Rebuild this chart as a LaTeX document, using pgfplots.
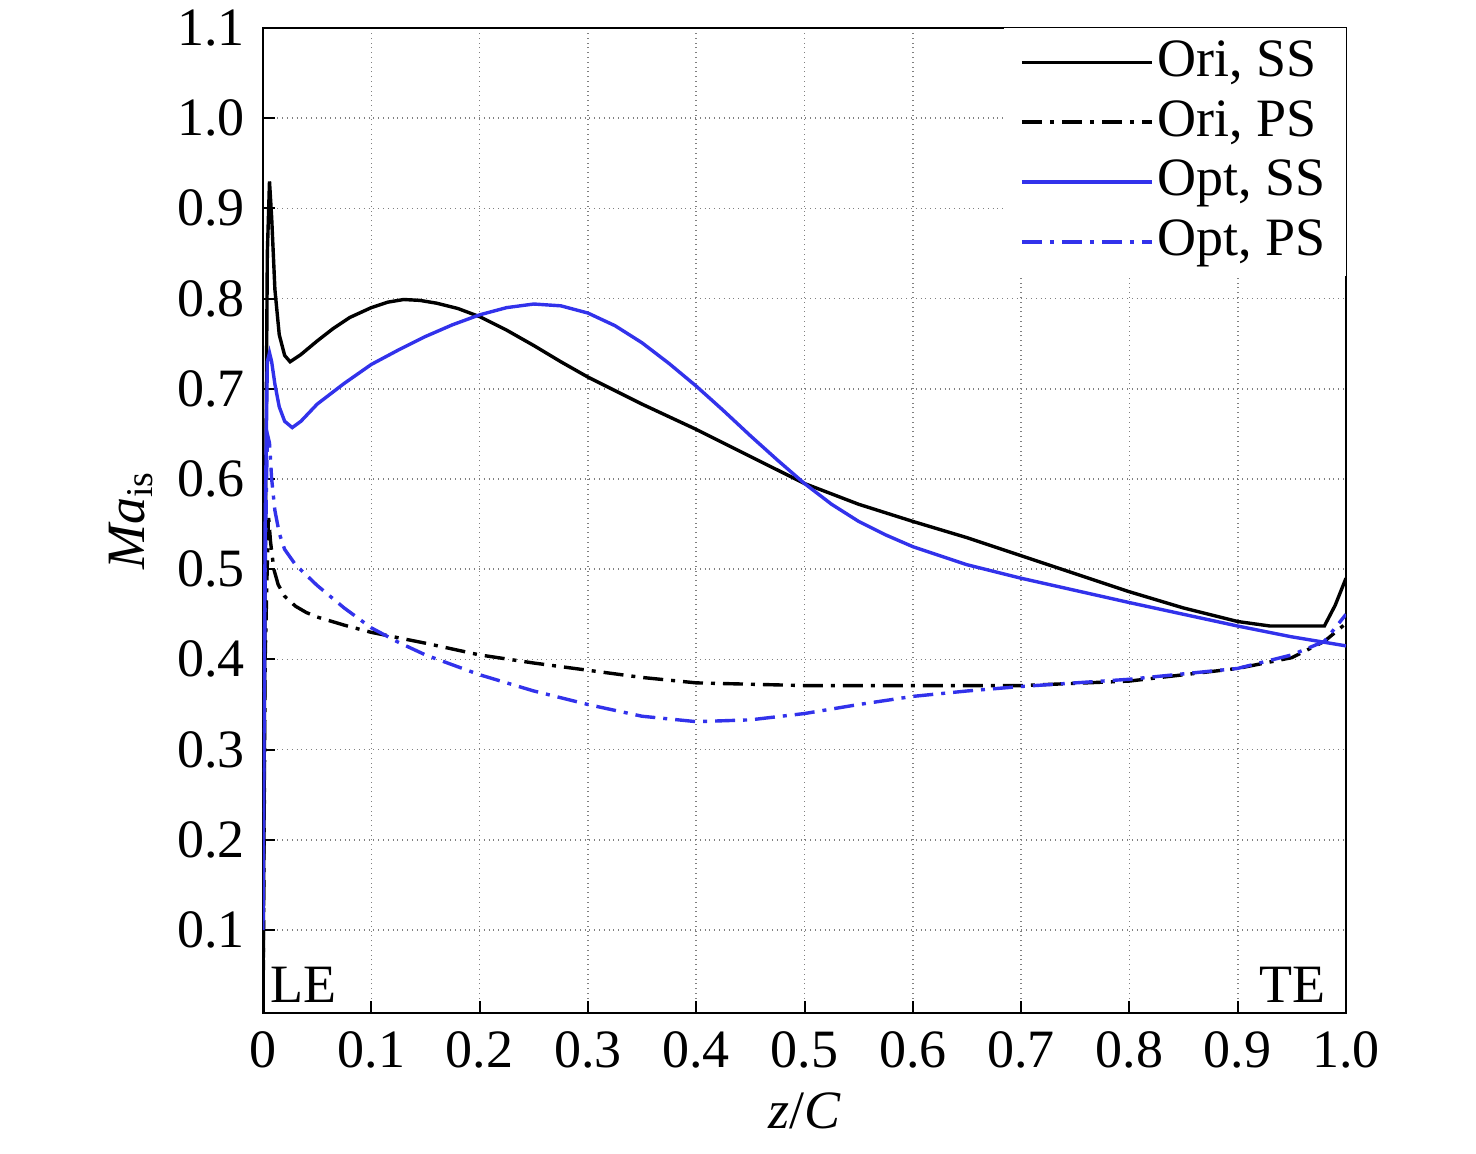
\documentclass[border=0pt]{standalone}
\usepackage{pgfplots}
\pgfplotsset{compat=1.18}
\usepackage{fontspec}
\setmainfont{Liberation Serif}
\definecolor{myblue}{RGB}{50,50,235}
\begin{document}
\fontsize{27}{32}\selectfont
\begin{tikzpicture}[x=1pt,y=1pt]
\begin{axis}[at={(0,0)},anchor=south west,scale only axis,
 width=541.5pt,height=492.5pt,
 xmin=0,xmax=1,ymin=0.008,ymax=1.1,
 xtick={0,0.1,...,1.0},xticklabels={0,0.1,0.2,0.3,0.4,0.5,0.6,0.7,0.8,0.9,1.0},
 ytick={0.1,0.2,...,1.1},yticklabels={0.1,0.2,0.3,0.4,0.5,0.6,0.7,0.8,0.9,1.0,1.1},
 tick align=inside,xtick pos=bottom,ytick pos=left,major tick length=6pt,
 tick style={black,line width=1pt},
 grid=major,grid style={dotted,gray,line width=0.8pt},
 axis line style={line width=1pt},
 xlabel={\textit{z}/\textit{C}},ylabel={\textit{Ma}\textsubscript{is}},
 xlabel style={yshift=6pt},ylabel style={yshift=-6pt},
 tick label style={font=\fontsize{27}{32}\selectfont},
 label style={font=\fontsize{27}{32}\selectfont},
 legend style={at={(1,1)},anchor=north east,draw=none,fill=white,font=\fontsize{27}{32}\selectfont,inner xsep=8pt,inner ysep=4pt,row sep=4pt,cells={xshift=8pt}},
 legend cell align=left,
 every axis plot/.append style={line width=1.7pt},
 legend image code/.code={\draw[#1] (0pt,0pt) -- (65pt,0pt);},
 clip=true]
\addplot[black] coordinates {(0,0.0)(0.002,0.5)(0.004,0.85)(0.006,0.93)(0.008,0.89)(0.011,0.81)(0.015,0.76)(0.02,0.737)(0.025,0.73)(0.035,0.738)(0.05,0.753)(0.065,0.767)(0.08,0.779)(0.1,0.79)(0.115,0.796)(0.13,0.799)(0.145,0.798)(0.16,0.795)(0.18,0.789)(0.2,0.78)(0.225,0.765)(0.25,0.748)(0.275,0.73)(0.3,0.713)(0.35,0.683)(0.4,0.655)(0.45,0.625)(0.5,0.595)(0.55,0.572)(0.6,0.553)(0.65,0.535)(0.7,0.515)(0.75,0.495)(0.8,0.475)(0.85,0.457)(0.9,0.442)(0.93,0.437)(0.98,0.437)(0.99,0.46)(1.0,0.49)};
\addlegendentry{Ori, SS}
\addplot[black,dash pattern=on 10pt off 4pt on 2pt off 4pt] coordinates {(0,0.0)(0.002,0.4)(0.005,0.56)(0.007,0.53)(0.01,0.5)(0.014,0.483)(0.02,0.47)(0.03,0.459)(0.04,0.452)(0.05,0.447)(0.075,0.438)(0.1,0.43)(0.15,0.418)(0.2,0.405)(0.25,0.396)(0.3,0.388)(0.35,0.38)(0.4,0.374)(0.5,0.371)(0.6,0.371)(0.7,0.371)(0.8,0.376)(0.85,0.383)(0.9,0.39)(0.95,0.402)(0.98,0.42)(1.0,0.44)};
\addlegendentry{Ori, PS}
\addplot[myblue] coordinates {(0,0.1)(0.002,0.55)(0.004,0.73)(0.006,0.74)(0.008,0.73)(0.011,0.705)(0.015,0.68)(0.02,0.664)(0.027,0.657)(0.035,0.664)(0.05,0.683)(0.075,0.706)(0.1,0.727)(0.125,0.743)(0.15,0.758)(0.175,0.771)(0.2,0.782)(0.225,0.79)(0.25,0.794)(0.275,0.792)(0.3,0.784)(0.325,0.77)(0.35,0.751)(0.375,0.728)(0.4,0.703)(0.425,0.676)(0.45,0.648)(0.475,0.621)(0.5,0.595)(0.525,0.572)(0.55,0.553)(0.575,0.538)(0.6,0.525)(0.65,0.505)(0.7,0.49)(0.8,0.463)(0.9,0.437)(0.95,0.425)(1.0,0.415)};
\addlegendentry{Opt, SS}
\addplot[myblue,dash pattern=on 10pt off 4pt on 2pt off 4pt] coordinates {(0,0.2)(0.002,0.5)(0.004,0.65)(0.006,0.64)(0.008,0.6)(0.011,0.565)(0.015,0.54)(0.02,0.522)(0.03,0.505)(0.05,0.482)(0.075,0.457)(0.1,0.435)(0.125,0.419)(0.15,0.405)(0.2,0.383)(0.25,0.365)(0.3,0.35)(0.35,0.337)(0.4,0.331)(0.45,0.333)(0.5,0.34)(0.55,0.35)(0.6,0.359)(0.65,0.365)(0.7,0.37)(0.8,0.378)(0.9,0.39)(0.95,0.405)(0.98,0.42)(1.0,0.45)};
\addlegendentry{Opt, PS}
\node[anchor=south west,inner sep=2pt] at (axis cs:0.003,0.015) {LE};
\node[anchor=south east,inner sep=2pt] at (axis cs:0.985,0.015) {TE};
\end{axis}
\pgfresetboundingbox
\path (-131.5pt,-70pt) rectangle (606.5pt,506.5pt);
\end{tikzpicture}
\end{document}
